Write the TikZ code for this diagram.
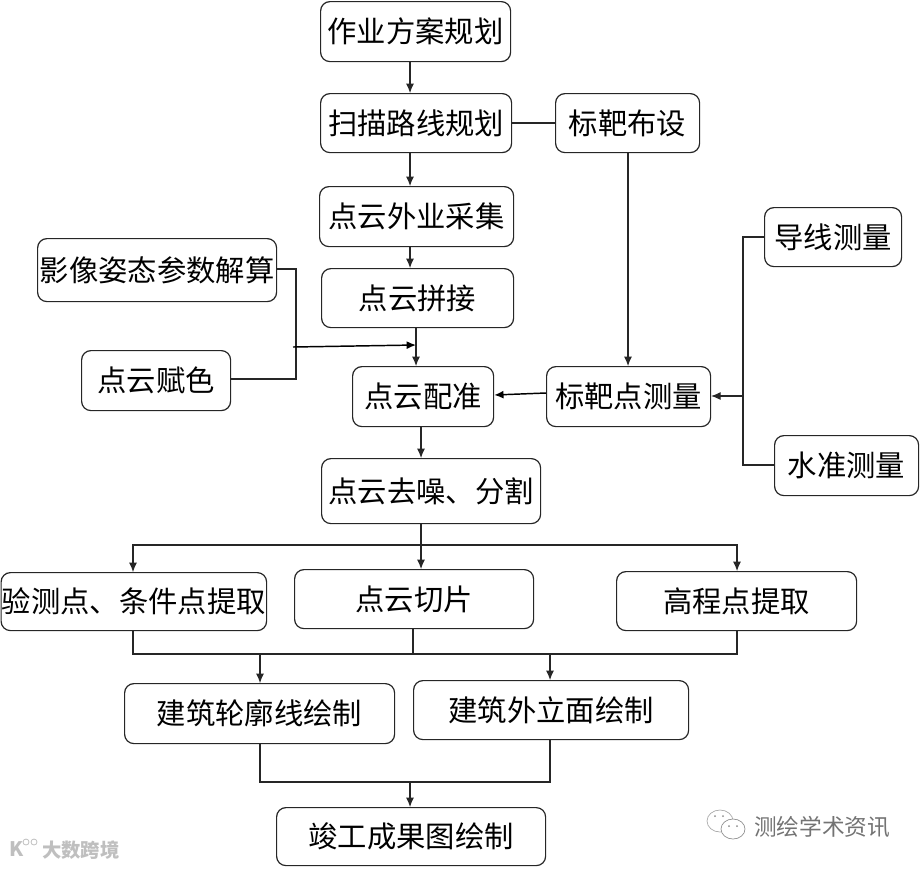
\documentclass[tikz,border=0pt]{standalone}
\usepackage{fontspec}
\setmainfont{Noto Sans CJK SC}
\usetikzlibrary{arrows.meta,calc}
\tikzset{
  box/.style={draw=black!85,line width=0.9pt,rounded corners=7pt,inner sep=0pt,font=\fontsize{22}{24}\selectfont},
  conn/.style={draw=black!85,line width=0.8pt},
  arr/.style={conn,-{Latex[length=7pt,width=6pt]}},
  slant/.style={draw=black,line width=1.1pt,-{Latex[length=7pt,width=6pt]}},
  wm/.style={inner sep=0pt}
}
\newcommand{\bx}[6]{\node[box,minimum width=#4*0.75pt-#2*0.75pt,minimum height=#5*0.75pt-#3*0.75pt,anchor=north west] (#1) at (#2,#3) {#6};}
\begin{document}
\begin{tikzpicture}[x=0.75pt,y=-0.75pt]
\useasboundingbox (1,1) rectangle (921,869);
\bx{a}{321}{2}{511}{62}{作业方案规划}
\bx{b}{321}{94}{512}{153}{扫描路线规划}
\bx{t}{556}{94}{700}{153}{标靶布设}
\bx{c}{320}{187}{514}{247}{点云外业采集}
\bx{y}{38}{239}{277}{302}{影像姿态参数解算}
\bx{d}{322}{269}{514}{328}{\raisebox{-1.5pt}{点云拼接}}
\bx{f}{82}{351}{231}{411}{点云赋色}
\bx{e}{353}{367}{494}{427}{点云配准}
\bx{p}{547}{367}{711}{427}{标靶点测量}
\bx{g}{765}{208}{902}{267}{导线测量}
\bx{s}{775}{436}{919}{496}{水准测量}
\bx{n}{322}{459}{541}{524}{点云去噪、分割}
\bx{v}{1.5}{573}{267}{631}{验测点、条件点提取}
\bx{q}{295}{570}{534}{629}{点云切片}
\bx{h}{617}{572}{857}{631}{\raisebox{-1.5pt}{高程点提取}}
\bx{l}{125}{684}{395}{744}{\raisebox{-1pt}{建筑轮廓线绘制}}
\bx{w}{414}{681}{689}{740}{建筑外立面绘制}
\bx{z}{277}{808}{546}{866}{竣工成果图绘制}
% helper coordinates
\coordinate (m1) at (297,270);
\coordinate (m2) at (297,380);
\coordinate (m3) at (294,348);
\coordinate (m4) at (417,346);
\coordinate (r1) at (744,238);
\coordinate (r2) at (744,466);
\coordinate (r3) at (744,397);
\coordinate (u) at (422,546);
\coordinate (uL) at (134,546);
\coordinate (uR) at (738,546);
\coordinate (dd) at (414,655);
\coordinate (dL) at (134,655);
\coordinate (dR) at (738,655);
\coordinate (dl) at (261,655);
\coordinate (dw) at (551,655);
\coordinate (bb) at (411,783);
\coordinate (bL) at (261,783);
\coordinate (bR) at (551,783);
% connectors
\draw[arr] (a.south -| 411,0) -- (b.north -| 411,0);
\draw[arr] (b.south -| 411,0) -- (c.north -| 411,0);
\draw[arr] (c.south -| 411,0) -- (d.north -| 411,0);
\draw[arr] (d.south -| 417,0) -- (e.north -| 417,0);
\draw[conn] (b.east |- 0,124) -- (t.west |- 0,124);
\draw[arr] (t.south -| 629,0) -- (p.north -| 629,0);
\draw[conn] (y.east |- m1) -- (m1) -- (m2) -- (f.east |- m2);
\draw[slant] (m3) -- (m4);
\draw[slant] (p.west |- 0,394) -- (e.east |- 0,396);
\draw[conn] (g.west |- r1) -- (r1) -- (r2) -- (s.west |- r2);
\draw[arr] (r3) -- (p.east |- r3);
\draw[arr] (e.south -| 422,0) -- (n.north -| 422,0);
\draw[arr] (n.south -| 422,0) -- (q.north -| 422,0);
\draw[arr] (u) -- (uL) -- (v.north -| uL);
\draw[arr] (u) -- (uR) -- (h.north -| uR);
\draw[conn] (v.south -| dL) -- (dL) -- (dR) -- (h.south -| dR);
\draw[conn] (q.south -| dd) -- (dd);
\draw[arr] (dl) -- (l.north -| dl);
\draw[arr] (dw) -- (w.north -| dw);
\draw[conn] (l.south -| bL) -- (bL) -- (bR) -- (w.south -| bR);
\draw[arr] (bb) -- (z.north -| bb);
% watermarks
\node[wm,text=black!55,font=\fontsize{17}{18}\selectfont,anchor=west] (wm1) at (755,828) {测绘学术资讯};
\draw[black!35,line width=0.5pt] (721,822) ellipse [x radius=13,y radius=11];
\draw[black!45,fill=white,line width=0.5pt] (734,830) ellipse [x radius=12,y radius=10];
\fill[black!45] (730,827) circle (1) (738,827) circle (1) (716,817) circle (1) (724,817) circle (1);
\node[wm,text=black!25,font=\bfseries\fontsize{14.5}{15}\selectfont,anchor=west] (wm2) at (43,851) {大数跨境};
\node[wm,text=black!25,font=\bfseries\fontsize{15}{16}\selectfont,anchor=west] (wm3) at (10,850) {K};
\draw[black!25,line width=0.6pt] (27,843) circle (3) (35,843) circle (3);
\end{tikzpicture}
\end{document}
